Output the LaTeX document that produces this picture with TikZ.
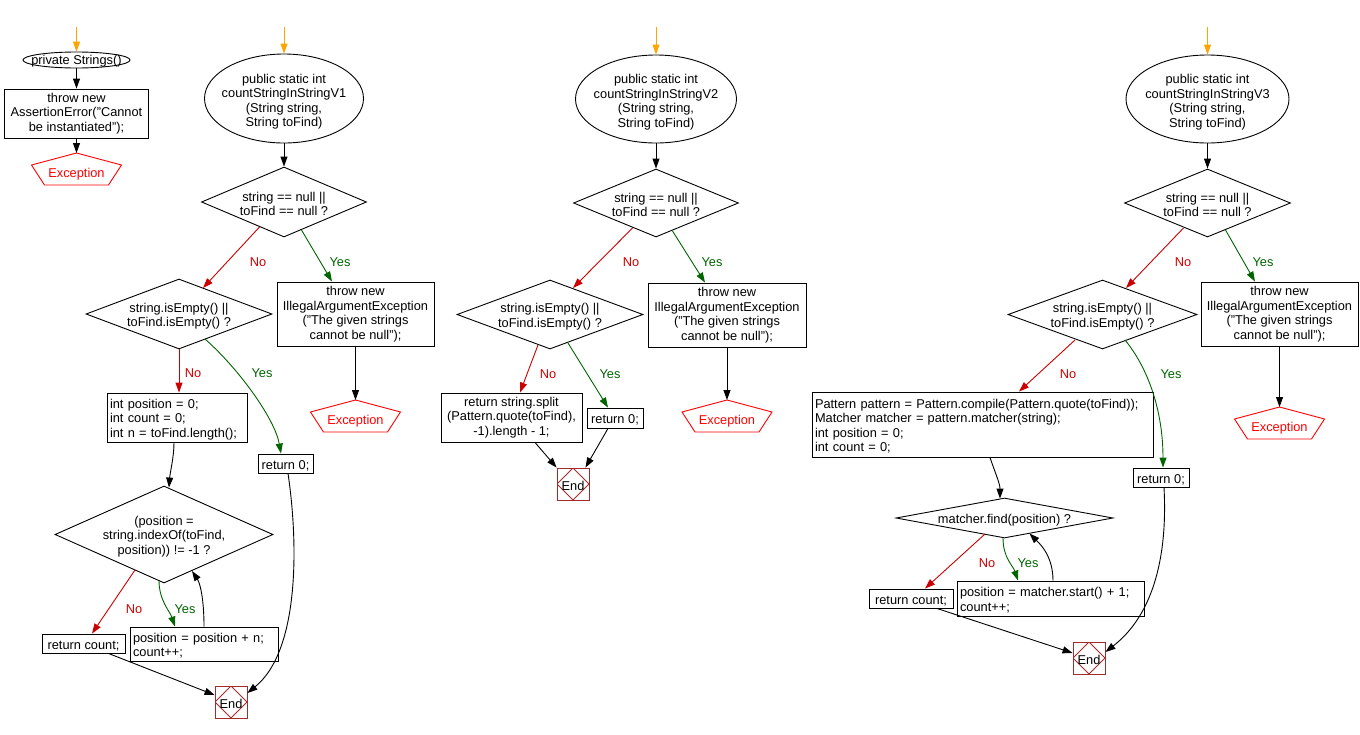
\documentclass[tikz,border=0pt]{standalone}
\usepackage{fontspec}
\setmainfont{Liberation Sans}
\usetikzlibrary{shapes.geometric,arrows.meta,calc}
\definecolor{nocol}{RGB}{204,0,0}
\definecolor{yescol}{RGB}{0,100,0}
\definecolor{startcol}{RGB}{255,165,0}
\definecolor{excol}{RGB}{255,0,0}
\definecolor{endcol}{RGB}{165,42,42}
\newcommand\exshape[1]{\draw[excol,line width=0.9pt] (#1.center) +(0,-19) -- +(45,-7) -- +(32,13) -- +(-32,13) -- +(-45,-7) -- cycle;
  \coordinate (#1t) at ($(#1.center)+(0,-19)$);}
\begin{document}
\begin{tikzpicture}[x=1pt,y=-1pt,
  font=\fontsize{12.8pt}{14.5pt}\selectfont,
  every node/.style={inner sep=0pt, line width=0.9pt},
  tx/.style={execute at begin node={\rule{0pt}{12.8pt}}},
  labt/.style={align=center, yshift=-2pt},
  labe/.style={align=center, yshift=-3pt},
  box/.style={draw, rectangle, align=center, tx},
  lbox/.style={draw, rectangle, align=left, inner xsep=3pt, tx},
  dec/.style={draw, diamond},
  term/.style={draw, ellipse},
  endn/.style={draw=endcol, rectangle, minimum size=32pt, tx,
    path picture={\draw[endcol,line width=0.8pt] (path picture bounding box.north) -- (path picture bounding box.east) -- (path picture bounding box.south) -- (path picture bounding box.west) -- cycle;}},
  exn/.style={text=excol, tx},
  arr/.style={-{Triangle[length=10pt,width=7pt]}, line width=0.9pt},
  noarr/.style={arr, nocol},
  yesarr/.style={arr, yescol},
  startarr/.style={arr, startcol},
  nolab/.style={text=nocol, tx},
  yeslab/.style={text=yescol, tx}]
\fill[white] (0,0) rectangle (1360,734);
\useasboundingbox (0,0) rectangle (1360,734);

% ---------- private Strings()
\coordinate (st0) at (76.5,27);
\node[term, minimum width=107pt, minimum height=16pt, label={[align=center,yshift=-1pt]center:{private Strings()}}] (s0) at (76.5,60) {};
\node[box, minimum width=144pt, minimum height=49pt] (b0) at (76.5,113.5) {throw new\\AssertionError("Cannot\\be instantiated");};
\node[exn] (ex0) at (76.5,172) {Exception};
\exshape{ex0}
\draw[startarr] (st0) -- (s0.north);
\draw[arr] (s0.south) -- (b0.north);
\draw[arr] (b0.south) -- (ex0t);

% ---------- V1
\coordinate (st1) at (284,27);
\node[term, minimum width=159pt, minimum height=89pt, label={[labe]center:{public static int\\countStringInStringV1\\(String string,\\String toFind)}}] (e1) at (284,98.5) {};
\node[dec, minimum width=165pt, minimum height=70pt, label={[labt]center:{string == null ||\\toFind == null ?}}] (d1) at (284,202) {};
\node[box, minimum width=157pt, minimum height=64pt] (c1) at (355.5,314) {throw new\\IllegalArgumentException\\("The given strings\\cannot be null");};
\node[exn] (ex1) at (355.5,419) {Exception};
\exshape{ex1}
\node[dec, minimum width=186pt, minimum height=70pt, label={[labt]center:{string.isEmpty() ||\\toFind.isEmpty() ?}}] (d2) at (179,314) {};
\node[lbox, text width=134pt, minimum height=49pt] (p1) at (177,417.5) {int position = 0;\\int count = 0;\\int n = toFind.length();};
\node[box, minimum width=55pt, minimum height=19pt] (r1) at (285.5,463.5) {return 0;};
\node[dec, minimum width=218pt, minimum height=97pt, label={[labt]center:{(position =\\string.indexOf(toFind,\\position)) != -1 ?}}] (d3) at (164,534.5) {};
\node[box, minimum width=83pt, minimum height=19pt] (rc1) at (83.5,643.5) {return count;};
\node[lbox, text width=142pt, minimum height=34pt] (pb1) at (204,644) {position = position + n;\\count++;};
\node[endn] (end1) at (231,702) {End};

\draw[startarr] (st1) -- (e1.north);
\draw[arr] (e1.south) -- (d1.north);
\draw[noarr] ($(d1.center)+(-24.5,25)$) -- ($(d2.center)+(24,-26)$);
\node[nolab] (n1a) at (258,260) {No};
\draw[yesarr] ($(d1.center)+(17.5,28)$) -- ($(c1.north)+(-23.5,0)$);
\node[yeslab] (y1a) at (340,260) {Yes};
\draw[arr] (c1.south) -- (ex1t);
\draw[noarr] (d2.south) -- (d2.south |- p1.north);
\node[nolab] (n1b) at (193,371) {No};
\draw[yesarr] ($(d2.center)+(26,25)$) .. controls +(35,31) and +(-6,-34) .. ($(r1.north)+(-4.5,0)$);
\node[yeslab] (y1b) at (262,371) {Yes};
\draw[arr] ($(p1.south)+(-3,0)$) .. controls +(0,15) and +(1,-15) .. ($(d3.north)+(5,2)$);
\draw[noarr] ($(d3.center)+(-29,35.5)$) -- ($(rc1.north)+(8.5,0)$);
\node[nolab] (n1c) at (134,607) {No};
\draw[yesarr] ($(d3.center)+(-5,46)$) .. controls +(0,20) and +(-5,-15) .. ($(pb1.north)+(-29,0)$);
\node[yeslab] (y1c) at (185,607) {Yes};
\draw[arr] (pb1.north) .. controls +(0,-28) and +(8,12) .. ($(d3.center)+(28,36.5)$);
\draw[arr] ($(rc1.south)+(25,0)$) -- ($(end1.west)+(0,-7)$);
\draw[arr] ($(r1.south)+(2.5,0)$) .. controls +(10,67) and +(53,-43) .. ($(end1.east)+(0,-9)$);

% ---------- V2
\coordinate (st2) at (656,27);
\node[term, minimum width=161pt, minimum height=88pt, label={[labe]center:{public static int\\countStringInStringV2\\(String string,\\String toFind)}}] (e2) at (656,99) {};
\node[dec, minimum width=165pt, minimum height=68pt, label={[labt]center:{string == null ||\\toFind == null ?}}] (f1) at (656,203) {};
\node[box, minimum width=158pt, minimum height=64pt] (c2) at (727,315) {throw new\\IllegalArgumentException\\("The given strings\\cannot be null");};
\node[exn] (ex2) at (727,419) {Exception};
\exshape{ex2}
\node[dec, minimum width=186pt, minimum height=69pt, label={[labt]center:{string.isEmpty() ||\\toFind.isEmpty() ?}}] (g2) at (550,314.5) {};
\node[box, minimum width=141pt, minimum height=49pt] (s2) at (511.5,417.5) {return string.split\\(Pattern.quote(toFind),\\-1).length - 1;};
\node[box, minimum width=56pt, minimum height=20pt] (r2) at (615,418) {return 0;};
\node[endn] (end2) at (573,484) {End};

\draw[startarr] (st2) -- (e2.north);
\draw[arr] (e2.south) -- (f1.north);
\draw[noarr] ($(f1.center)+(-23.5,25)$) -- ($(g2.center)+(23,-26.5)$);
\node[nolab] (n2a) at (631,260) {No};
\draw[yesarr] ($(f1.center)+(16.5,28)$) -- ($(c2.north)+(-22,0)$);
\node[yeslab] (y2a) at (712,260) {Yes};
\draw[arr] (c2.south) -- (ex2t);
\draw[noarr] ($(g2.center)+(-12,30.5)$) -- ($(s2.north)+(8.5,0)$);
\node[nolab] (n2b) at (548,372) {No};
\draw[yesarr] ($(g2.center)+(18,28.5)$) -- ($(r2.north)+(-7,0)$);
\node[yeslab] (y2b) at (610,372) {Yes};
\draw[arr] ($(s2.south)+(23.5,0)$) -- (end2.north west);
\draw[arr] ($(r2.south)+(-7,0)$) -- ($(end2.north east)+(-4,0)$);

% ---------- V3
\coordinate (st3) at (1207.5,27);
\node[term, minimum width=163pt, minimum height=88pt, label={[labe]center:{public static int\\countStringInStringV3\\(String string,\\String toFind)}}] (e3) at (1207.5,99) {};
\node[dec, minimum width=166pt, minimum height=68pt, label={[labt]center:{string == null ||\\toFind == null ?}}] (h1) at (1207.5,203) {};
\node[box, minimum width=157pt, minimum height=64pt] (c3) at (1279.5,314) {throw new\\IllegalArgumentException\\("The given strings\\cannot be null");};
\node[exn] (ex3) at (1279.5,426) {Exception};
\exshape{ex3}
\node[dec, minimum width=189pt, minimum height=69pt, label={[labt]center:{string.isEmpty() ||\\toFind.isEmpty() ?}}] (h2) at (1102.5,314.5) {};
\node[lbox, text width=335pt, minimum height=65pt] (pat) at (982.5,424.5) {Pattern pattern = Pattern.compile(Pattern.quote(toFind));\\Matcher matcher = pattern.matcher(string);\\int position = 0;\\int count = 0;};
\node[box, minimum width=56pt, minimum height=19pt] (r3) at (1161,477.5) {return 0;};
\node[dec, minimum width=217pt, minimum height=40pt, label={[labt]center:{matcher.find(position) ?}}] (k3) at (1004.5,518) {};
\node[box, minimum width=84pt, minimum height=19pt] (rc3) at (911,598.5) {return count;};
\node[lbox, text width=181pt, minimum height=35pt] (pm) at (1050.5,598.5) {position = matcher.start() + 1;\\count++;};
\node[endn] (end3) at (1089,658) {End};

\draw[startarr] (st3) -- (e3.north);
\draw[arr] (e3.south) -- (h1.north);
\draw[noarr] ($(h1.center)+(-24,25)$) -- ($(h2.center)+(23.5,-26.5)$);
\node[nolab] (n3a) at (1183,260) {No};
\draw[yesarr] ($(h1.center)+(18,27)$) -- ($(c3.north)+(-24.5,0)$);
\node[yeslab] (y3a) at (1263,260) {Yes};
\draw[arr] (c3.south) -- (ex3t);
\draw[noarr] ($(h2.center)+(-27.5,25.5)$) -- ($(pat.north)+(36.5,0)$);
\node[nolab] (n3b) at (1068,372) {No};
\draw[yesarr] ($(h2.center)+(22.5,25.5)$) .. controls +(23,28) and +(0,-57) .. ($(r3.north)+(2,0)$);
\node[yeslab] (y3b) at (1171,372) {Yes};
\draw[arr] ($(pat.south)+(7.5,0)$) .. controls +(5,15) and +(0,-15) .. ($(k3.north)+(-4.5,1)$);
\draw[noarr] ($(k3.center)+(-19.5,16)$) -- ($(rc3.north)+(14,0)$);
\node[nolab] (n3c) at (987,561) {No};
\draw[yesarr] ($(k3.center)+(-1.5,20)$) .. controls +(0,20) and +(-5,-15) .. ($(pm.north)+(-32.5,0)$);
\node[yeslab] (y3c) at (1028,561) {Yes};
\draw[arr] ($(pm.north)+(2.5,0)$) .. controls +(0,-25) and +(10,10) .. ($(k3.center)+(25,15.5)$);
\draw[arr] ($(rc3.south)+(26,0)$) -- ($(end3.west)+(0,-5)$);
\draw[arr] ($(r3.south)+(3,0)$) .. controls +(4,75) and +(45,-35) .. ($(end3.east)+(0,-6)$);
\end{tikzpicture}
\end{document}
